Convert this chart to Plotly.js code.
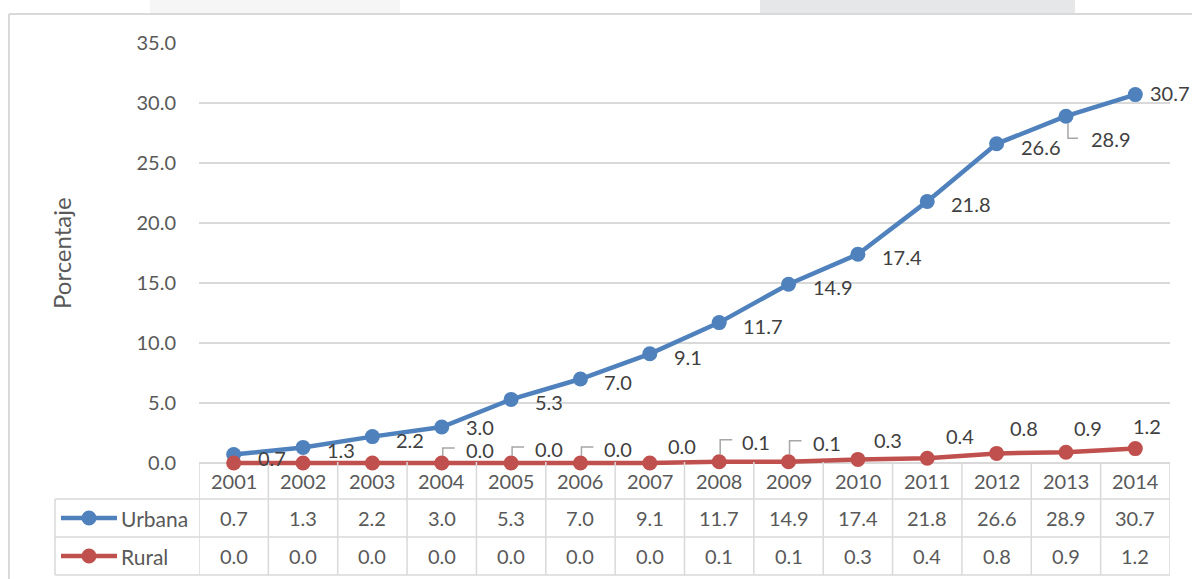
<!DOCTYPE html>
<html><head><meta charset="utf-8">
<script src="https://cdn.plot.ly/plotly-3.0.1.min.js"></script>
<style>html,body{margin:0;padding:0;background:#fff;}#chart{width:1192px;height:579px;}</style>
</head><body><div id="chart"></div>
<script>
// ---- data ----
const years = ['2001','2002','2003','2004','2005','2006','2007','2008','2009','2010','2011','2012','2013','2014'];
const urbana = [0.7,1.3,2.2,3.0,5.3,7.0,9.1,11.7,14.9,17.4,21.8,26.6,28.9,30.7];
const rural  = [0.0,0.0,0.0,0.0,0.0,0.0,0.0,0.1,0.1,0.3,0.4,0.8,0.9,1.2];
const seriesNames = ['Urbana','Rural'];
const yTickVals = [0,5,10,15,20,25,30,35];
const yTitle = 'Porcentaje';

// ---- style ----
const W = 1192, H = 579, L = 199, R = 22, T = 43;
const YMIN = -1.5, YMAX = 35, PXU = 12;          // 12 px per unit; small pad below 0 so lines are not clipped
const PH = (YMAX - YMIN) * PXU, B = H - T - PH, PW = W - L - R;
const X = px => (px - L) / PW;
const Y = py => (T + PH - py) / PH;
const FONT = 'Lato, "Open Sans", sans-serif';
const BLUE = '#4F81BD', RED = '#C0504D', GRID = '#D9D9D9', TXT = '#595959', LBL = '#404040';
const FS = 20;

// label offsets (pixels): [dx, dy-up]
const urbOff = years.map(() => [22, -3]);
urbOff[3] = [22, 0];
urbOff[12] = [23, -23];
urbOff[13] = [13, 2];
const urbLeader = {12: true};
const rurOff = {3:[38,13],4:[38,14],5:[38,14],6:[32,17],7:[37,20],8:[38,19],9:[30,19],10:[33,22],11:[27,25],12:[22,24],13:[12,23]};
const rurLeader = {3:true,4:true,5:true,7:true,8:true};

const traces = [
  {x: years, y: urbana, name: seriesNames[0], type: 'scatter', mode: 'lines+markers',
   line: {color: BLUE, width: 4.5}, marker: {color: BLUE, size: 15}, cliponaxis: false, hoverinfo: 'x+y'},
  {x: years, y: rural, name: seriesNames[1], type: 'scatter', mode: 'lines+markers',
   line: {color: RED, width: 4.5}, marker: {color: RED, size: 15}, cliponaxis: false, hoverinfo: 'x+y'}
];

const annotations = [];
const shapes = [];

// data labels (category axis: annotation x given as category index)
urbana.forEach((v, i) => {
  annotations.push({x: i, y: v, xref: 'x', yref: 'y', text: v.toFixed(1), showarrow: false,
    xanchor: 'left', yanchor: 'middle', xshift: urbOff[i][0], yshift: urbOff[i][1],
    font: {family: FONT, size: FS, color: LBL}});
  if (urbLeader[i]) {
    shapes.push({type: 'path', xref: 'x', yref: 'y', xsizemode: 'pixel', ysizemode: 'pixel',
      xanchor: i, yanchor: v, path: 'M2,-7 L2,-22 L12,-22', line: {color: '#A6A6A6', width: 1.5}});
  }
});
rural.forEach((v, i) => {
  if (!rurOff[i]) return;
  annotations.push({x: i, y: v, xref: 'x', yref: 'y', text: v.toFixed(1), showarrow: false,
    xanchor: 'center', yanchor: 'middle', xshift: rurOff[i][0], yshift: rurOff[i][1],
    font: {family: FONT, size: FS, color: LBL}});
  if (rurLeader[i]) {
    const h = rurOff[i][1] + 2;
    shapes.push({type: 'path', xref: 'x', yref: 'y', xsizemode: 'pixel', ysizemode: 'pixel',
      xanchor: i, yanchor: v, path: `M1,7 L1,${h} L13,${h}`, line: {color: '#A6A6A6', width: 1.5}});
  }
});

// y axis title
annotations.push({xref: 'paper', yref: 'paper', x: X(61), y: Y(253), text: yTitle, textangle: -90,
  showarrow: false, xanchor: 'center', yanchor: 'middle', font: {family: FONT, size: 24, color: TXT}});

// ---- data table ----
const rowTop = 462, r1 = 499, r2 = 537, r3 = 575, legL = 55;
const gl = {color: GRID, width: 1.5};
for (let k = 0; k <= years.length; k++) {
  shapes.push({type: 'line', xref: 'x', yref: 'paper', x0: k - 0.5, x1: k - 0.5, y0: Y(rowTop), y1: Y(r3), line: gl});
}
shapes.push({type: 'line', xref: 'paper', yref: 'paper', x0: X(legL), x1: X(legL), y0: Y(r1), y1: Y(r3), line: gl});
[r1, r2, r3].forEach(ry => shapes.push({type: 'line', xref: 'paper', yref: 'paper', x0: X(legL), x1: 1, y0: Y(ry), y1: Y(ry), line: gl}));

const rowsY = [(rowTop + r1) / 2, (r1 + r2) / 2, (r2 + r3) / 2];
years.forEach((yr, i) => {
  annotations.push({x: i, xref: 'x', yref: 'paper', y: Y(rowsY[0]), text: yr, showarrow: false,
    xanchor: 'center', yanchor: 'middle', font: {family: FONT, size: FS, color: TXT}});
  annotations.push({x: i, xref: 'x', yref: 'paper', y: Y(rowsY[1]), text: urbana[i].toFixed(1), showarrow: false,
    xanchor: 'center', yanchor: 'middle', font: {family: FONT, size: FS, color: TXT}});
  annotations.push({x: i, xref: 'x', yref: 'paper', y: Y(rowsY[2]), text: rural[i].toFixed(1), showarrow: false,
    xanchor: 'center', yanchor: 'middle', font: {family: FONT, size: FS, color: TXT}});
});
// legend keys in the table
[[BLUE, rowsY[1], seriesNames[0]], [RED, rowsY[2], seriesNames[1]]].forEach(([c, ry, nm]) => {
  shapes.push({type: 'line', xref: 'paper', yref: 'paper', x0: X(61), x1: X(117), y0: Y(ry), y1: Y(ry), line: {color: c, width: 4.5}});
  shapes.push({type: 'circle', xref: 'paper', yref: 'paper', xsizemode: 'pixel', ysizemode: 'pixel',
    xanchor: X(89), yanchor: Y(ry), x0: -7.5, x1: 7.5, y0: -7.5, y1: 7.5, fillcolor: c, line: {width: 0}});
  annotations.push({xref: 'paper', yref: 'paper', x: X(119), y: Y(ry), text: nm, showarrow: false,
    xanchor: 'left', yanchor: 'middle', font: {family: FONT, size: 21, color: TXT}});
});

// frame and faint top band
shapes.push({type: 'rect', xref: 'paper', yref: 'paper', x0: X(760), x1: X(1075), y0: Y(14), y1: Y(0), fillcolor: '#E6E7E9', line: {width: 0}, layer: 'below'});
shapes.push({type: 'rect', xref: 'paper', yref: 'paper', x0: X(150), x1: X(400), y0: Y(14), y1: Y(0), fillcolor: '#F6F6F7', line: {width: 0}, layer: 'below'});
shapes.push({type: 'line', xref: 'paper', yref: 'paper', x0: X(9), x1: X(1192), y0: Y(14), y1: Y(14), line: {color: GRID, width: 2}});
shapes.push({type: 'line', xref: 'paper', yref: 'paper', x0: X(9), x1: X(9), y0: Y(14), y1: Y(579), line: {color: GRID, width: 2}});

const layout = {
  width: W, height: H,
  margin: {l: L, r: R, t: T, b: B, pad: 0},
  paper_bgcolor: '#fff', plot_bgcolor: 'rgba(0,0,0,0)',
  showlegend: false,
  font: {family: FONT, size: FS, color: TXT},
  xaxis: {type: 'category', range: [-0.5, years.length - 0.5], showticklabels: false, showgrid: false,
    zeroline: false, showline: false, ticks: '', fixedrange: true},
  yaxis: {range: [YMIN, YMAX], tickvals: yTickVals, tickformat: '.1f', showgrid: true, gridcolor: GRID, gridwidth: 1.5,
    zeroline: false, showline: false, ticks: '', ticklabelstandoff: 22,
    tickfont: {family: FONT, size: FS, color: TXT}, fixedrange: true},
  shapes: shapes,
  annotations: annotations
};

Plotly.newPlot('chart', traces, layout, {displayModeBar: false, staticPlot: true});
</script>
</body></html>
